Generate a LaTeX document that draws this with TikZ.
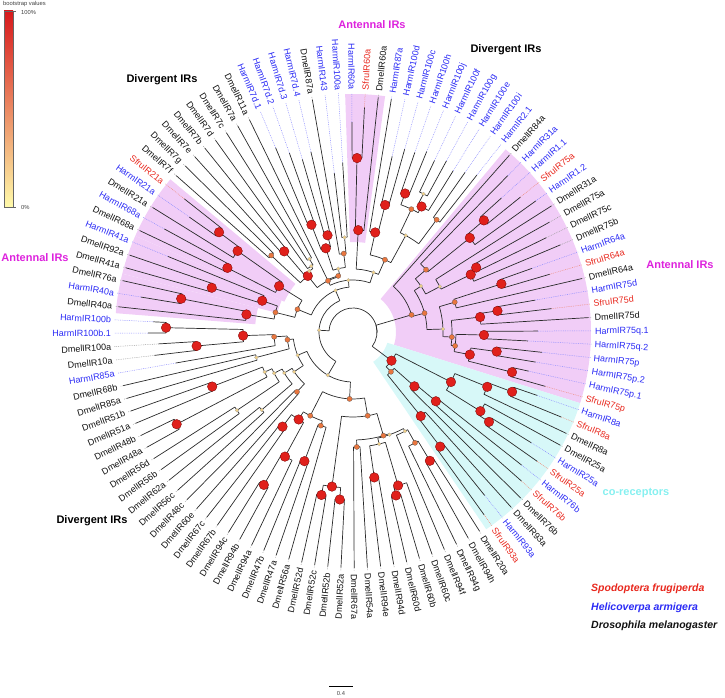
\documentclass[tikz,border=0pt]{standalone}
\usepackage{fontspec}
\setmainfont{Liberation Sans}
\definecolor{cD}{HTML}{111111}
\definecolor{cH}{HTML}{2B2BF5}
\definecolor{cS}{HTML}{E8281E}
\definecolor{lcD}{HTML}{9A9A9A}
\definecolor{lcH}{HTML}{8C8CFF}
\definecolor{lcS}{HTML}{F08A78}
\definecolor{pinkfill}{HTML}{F1CDF7}
\definecolor{cyanfill}{HTML}{D7F8F8}
\definecolor{magtext}{HTML}{DD22DD}
\definecolor{cotext}{HTML}{86F0F0}
\definecolor{bsred}{HTML}{E0201B}
\definecolor{bsorange}{HTML}{E8763F}
\definecolor{bspale}{HTML}{F0CF86}
\definecolor{branch}{HTML}{2A2A2A}
\definecolor{gtop}{HTML}{D7191C}
\definecolor{gmid}{HTML}{EB8C55}
\definecolor{gbot}{HTML}{FFFAAA}

\def\leaflist{1/DmelIR20a/cD,2/DmelIR94h/cD,3/DmelIR94g/cD,4/DmelIR94f/cD,5/DmelIR60c/cD,6/DmelIR60b/cD,7/DmelIR60d/cD,8/DmelIR94d/cD,9/DmelIR94e/cD,10/DmelIR54a/cD,11/DmelIR67a/cD,12/DmelIR52a/cD,13/DmelIR52b/cD,14/DmelIR52c/cD,15/DmelIR52d/cD,16/DmelIR56a/cD,17/DmelIR47a/cD,18/DmelIR47b/cD,19/DmelIR94a/cD,20/DmelIR94b/cD,21/DmelIR94c/cD,22/DmelIR67b/cD,23/DmelIR67c/cD,24/DmelIR60e/cD,25/DmelIR48c/cD,26/DmelIR56c/cD,27/DmelIR62a/cD,28/DmelIR56b/cD,29/DmelIR56d/cD,30/DmelIR48a/cD,31/DmelIR48b/cD,32/DmelIR51a/cD,33/DmelIR51b/cD,34/DmelIR85a/cD,35/DmelIR68b/cD,36/HarmIR85a/cH,37/DmelIR10a/cD,38/DmelIR100a/cD,39/HarmIR100b.1/cH,40/HarmIR100b/cH,41/DmelIR40a/cD,42/HarmIR40a/cH,43/DmelIR76a/cD,44/DmelIR41a/cD,45/DmelIR92a/cD,46/HarmIR41a/cH,47/DmelIR68a/cD,48/HarmIR68a/cH,49/DmelIR21a/cD,50/HarmIR21a/cH,51/SfruIR21a/cS,52/DmelIR7f/cD,53/DmelIR7g/cD,54/DmelIR7e/cD,55/DmelIR7b/cD,56/DmelIR7d/cD,57/DmelIR7c/cD,58/DmelIR7a/cD,59/DmelIR11a/cD,60/HarmIR7d.1/cH,61/HarmIR7d.2/cH,62/HarmIR7d.3/cH,63/HarmIR7d.4/cH,64/DmelIR87a/cD,65/HarmIR143/cH,66/HarmIR100a/cH,67/HarmIR60a/cH,68/SfruIR60a/cS,69/DmelIR60a/cD,70/HarmIR87a/cH,71/HarmIR100d/cH,72/HarmIR100c/cH,73/HarmIR100h/cH,74/HarmIR100j/cH,75/HarmIR100f/cH,76/HarmIR100g/cH,77/HarmIR100e/cH,78/HarmIR100i/cH,79/HarmIR2.1/cH,80/DmelIR84a/cD,81/HarmIR31a/cH,82/HarmIR1.1/cH,83/SfruIR75a/cS,84/HarmIR1.2/cH,85/DmelIR31a/cD,86/DmelIR75a/cD,87/DmelIR75c/cD,88/DmelIR75b/cD,89/HarmIR64a/cH,90/SfruIR64a/cS,91/DmelIR64a/cD,92/HarmIR75d/cH,93/SfruIR75d/cS,94/DmelIR75d/cD,95/HarmIR75q.1/cH,96/HarmIR75q.2/cH,97/HarmIR75p/cH,98/HarmIR75p.2/cH,99/HarmIR75p.1/cH,100/SfruIR75p/cS,101/HarmIR8a/cH,102/SfruIR8a/cS,103/DmelIR8a/cD,104/DmelIR25a/cD,105/HarmIR25a/cH,106/SfruIR25a/cS,107/HarmIR76b/cH,108/SfruIR76b/cS,109/DmelIR76b/cD,110/DmelIR93a/cD,111/HarmIR93a/cH,112/SfruIR93a/cS}

% a/k/b/r/parent r/left tip/right tip/support
\def\treelist{1/79/112/24/0/0/0/0,
80/100/112/24/24/0/0/0,
80/80/100/61/24/236/0/2,
81/88/100/74/61/0/0/2,
81/84/88/82/74/0/0/1,
81/81/84/96/82/220/0/2,
82/83/84/150/96/0/225/3,
82/82/83/172/150/200/215/3,
85/85/88/98/82/235/0/1,
86/87/88/131/98/0/225/3,
86/86/87/139/131/225/215/3,
89/91/100/90/74/0/0/1,
89/90/91/106/90/0/235/2,
89/89/90/156/106/190/205/3,
92/94/100/99/90/0/0/2,
92/93/94/128/99/0/236/3,
92/92/93/146/128/185/200/3,
95/96/100/103/99/0/0/2,
95/95/96/131/103/185/175/3,
97/98/100/119/103/0/0/3,
97/97/98/145/119/190/185/3,
99/99/100/164/119/180/200/3,
101/106/112/48/24/0/0/3,
101/103/106/110/48/0/0/3,
101/102/103/145/110/0/236/3,
101/101/102/170/145/195/225/3,
104/104/106/150/110/236/0/3,
105/105/106/163/150/210/225/3,
107/109/112/55/48/0/0/2,
107/108/109/82/55/0/236/3,
107/107/108/108/82/215/225/3,
110/110/112/108/55/236/0/3,
111/111/112/144/108/210/225/3,
1/40/79/34/24/0/0/1,
1/23/40/50/34/0/0/1,
1/15/23/67/50/0/0/2,
1/11/15/85/67/0/0/2,
1/9/11/108/85/0/0/2,
1/4/9/109/108/0/0/1,
1/3/4/112/109/0/236/1,
1/2/3/127/112/0/236/2,
1/1/2/150/127/236/236/3,
5/7/9/115/109/0/0/1,
5/5/7/160/115/236/0/3,
6/6/7/169/160/236/236/3,
8/8/9/147/115/236/236/3,
10/10/11/115/108/236/236/2,
12/13/15/156/85/0/0/3,
12/12/13/168/156/236/236/3,
14/14/15/166/156/236/236/3,
16/18/23/94/67/0/0/2,
16/16/18/99/94/236/0/2,
17/17/18/138/99/236/236/3,
19/21/23/103/94/0/0/3,
19/19/21/142/103/236/0/3,
20/20/21/177/142/236/236/3,
22/22/23/118/103/236/236/3,
24/33/40/60/50/0/0/1,
24/25/33/71/60/0/0/1,
24/24/25/82/71/236/236/2,
26/27/33/80/71/0/0/1,
26/26/27/120/80/236/236/1,
28/29/33/89/80/0/0/1,
28/28/29/140/89/236/236/1,
30/31/33/97/89/0/0/1,
30/30/31/199/97/236/236/3,
32/32/33/151/97/236/236/3,
34/35/40/66/60/0/0/2,
34/34/35/100/66/236/236/1,
36/36/40/79/66/180/0/2,
37/38/40/110/79/0/0/3,
37/37/38/157/110/200/195/3,
39/39/40/187/110/205/200/3,
41/51/79/45/34/0/0/1,
41/46/51/60/45/0/0/2,
41/43/46/80/60/0/0/2,
41/41/43/108/80/236/0/3,
42/42/43/175/108/215/236/3,
44/45/46/96/80/0/200/3,
44/44/45/148/96/236/236/3,
47/48/51/87/60/0/0/3,
47/47/48/141/87/236/215/3,
49/49/51/141/87/236/0/3,
50/50/51/167/141/200/215/3,
52/66/79/52/45/0/0/1,
52/58/66/57/52/0/0/2,
52/53/58/72/57/0/0/3,
52/52/53/112/72/236/236/2,
54/55/58/75/72/0/0/1,
54/54/55/106/75/236/236/3,
56/56/58/78/75/236/0/1,
57/57/58/85/78/236/236/1,
59/59/66/58/57/236/0/2,
60/63/66/65/58/0/0/1,
60/61/63/88/65/0/0/3,
60/60/61/115/88/200/190/3,
62/62/63/100/88/180/185/3,
64/64/66/79/65/236/0/2,
65/65/66/95/79/160/170/1,
67/69/79/63/52/0/0/1,
67/68/69/102/63/0/236/3,
67/67/68/174/102/210/225/3,
70/72/79/79/63/0/0/2,
70/70/72/102/79/236/0/3,
71/71/72/131/102/180/190/3,
73/77/79/110/79/0/0/1,
73/74/77/136/110/0/0/2,
73/73/74/148/136/190/195/3,
75/76/77/143/136/0/190/3,
75/75/76/155/143/190/195/1,
78/78/79/140/110/195/200/2}

\newcommand\ringsector[4]{%
  \pgfmathsetmacro\sA{-57.57-(#1-1)*3.2143}%
  \pgfmathsetmacro\sB{-57.57-(#2-1)*3.2143}%
  \fill[#4] (\sA:#3pt) arc[start angle=\sA,end angle=\sB,radius=#3pt]
     -- (\sB:238pt) arc[start angle=\sB,end angle=\sA,radius=238pt] -- cycle;}

\tikzset{
  br/.style={draw=branch,line width=0.7pt},
  dl/.style={line width=0.5pt,dash pattern=on 0.8pt off 1pt},
  lab/.style={font=\fontsize{9}{10}\selectfont,inner sep=1pt,text height=6.5pt,text depth=0pt},
  clade/.style={font=\fontsize{11}{13}\selectfont\bfseries,inner sep=0pt},
  leg/.style={font=\fontsize{10.5}{12}\selectfont\bfseries\itshape,anchor=west,inner sep=0pt},
  tiny/.style={font=\fontsize{5.8}{6.5}\selectfont,inner sep=0pt,text=black!75}
}

\begin{document}
\begin{tikzpicture}[x=1pt,y=1pt]
\useasboundingbox (0,0) rectangle (725,697);

\begin{scope}[shift={(353,365)}]
  % shaded clades
  \ringsector{66.5}{69.5}{90}{pinkfill}
  \ringsector{79.5}{100.5}{43}{pinkfill}
  \ringsector{100.5}{112.5}{36}{cyanfill}
  \ringsector{40.5}{43.5}{98}{pinkfill}
  \ringsector{43.5}{46.5}{78}{pinkfill}
  \ringsector{46.5}{51.5}{75}{pinkfill}

  % leaf labels
  \foreach \j/\nm/\col in \leaflist {
    \pgfmathsetmacro\th{-57.57-(\j-1)*3.2143}
    \pgfmathtruncatemacro\flip{cos(\th)<0}
    \ifnum\flip=1\relax
      \pgfmathsetmacro\rot{\th+180}
      \node[lab,text=\col,anchor=east,rotate=\rot] (leaf\j) at (\th:241pt) {\nm};
    \else
      \node[lab,text=\col,anchor=west,rotate=\th] (leaf\j) at (\th:241pt) {\nm};
    \fi
    \expandafter\xdef\csname lc\j\endcsname{l\col}
  }

  % branches
  \foreach \xa/\xk/\xb/\xr/\xp/\xl/\xq/\xs in \treelist {
    \pgfmathsetmacro\thN{-57.57-((\xa+\xb)/2-1)*3.2143}
    \pgfmathsetmacro\thL{-57.57-((\xa+\xk)/2-1)*3.2143}
    \pgfmathsetmacro\thR{-57.57-((\xk+1+\xb)/2-1)*3.2143}
    \draw[br] (\thL:\xr pt) arc[start angle=\thL,end angle=\thR,radius=\xr pt];
    \ifnum\xp>0\relax
      \draw[br] (\thN:\xp pt) -- (\thN:\xr pt);
    \fi
    \ifnum\xa=\xk\relax
      \edef\cl{\csname lc\xa\endcsname}
      \draw[br] (\thL:\xr pt) -- (\thL:\xl pt);
      \draw[dl,draw=\cl] (\thL:\xl pt) -- (\thL:239pt);
    \fi
    \pgfmathtruncatemacro\kk{\xk+1}
    \ifnum\kk=\xb\relax
      \edef\cl{\csname lc\xb\endcsname}
      \draw[br] (\thR:\xr pt) -- (\thR:\xq pt);
      \draw[dl,draw=\cl] (\thR:\xq pt) -- (\thR:239pt);
    \fi
  }

  % bootstrap dots
  \foreach \xa/\xk/\xb/\xr/\xp/\xl/\xq/\xs in \treelist {
    \pgfmathsetmacro\thN{-57.57-((\xa+\xb)/2-1)*3.2143}
    \ifcase\xs\relax
    \or \filldraw[fill=bspale,draw=gray!70,line width=0.2pt] (\thN:\xr pt) circle (1.9pt);
    \or \filldraw[fill=bsorange,draw=gray!60!black,line width=0.2pt] (\thN:\xr pt) circle (2.6pt);
    \or \filldraw[fill=bsred,draw=red!45!black,line width=0.3pt] (\thN:\xr pt) circle (4.8pt);
    \fi
  }
\end{scope}

% clade titles
\node[clade,text=magtext] (antTop) at (372,672) {Antennal IRs};
\node[clade,text=magtext] (antRight) at (680,432) {Antennal IRs};
\node[clade,text=magtext] (antLeft) at (35,439) {Antennal IRs};
\node[clade] (divTL) at (162,617) {Divergent IRs};
\node[clade] (divTR) at (506,647) {Divergent IRs};
\node[clade] (divBL) at (92,176) {Divergent IRs};
\node[clade,text=cotext] (core) at (636,204) {co-receptors};

% species legend
\node[leg,text=cS] (spS) at (591,108) {Spodoptera frugiperda};
\node[leg,text=cH] (spH) at (591,89.5) {Helicoverpa armigera};
\node[leg,text=cD] (spD) at (591,71) {Drosophila melanogaster};

% scale bar
\coordinate (sbA) at (329,11);
\coordinate (sbB) at (353,11);
\draw[line width=0.5pt] (sbA) -- (sbB);
\node[tiny] (sbT) at (341,4) {0.4};

% bootstrap colour bar
\shade[top color=gtop,middle color=gmid,bottom color=gbot] (4,490) rectangle (13,686);
\draw[line width=0.3pt,black!60] (4,490) rectangle (13,686);
\draw[line width=0.3pt,black!60] (13,686) -- (16,686);
\draw[line width=0.3pt,black!60] (13,490) -- (16,490);
\node[tiny,anchor=west] (bsT) at (3,692.5) {bootstrap values};
\node[tiny,anchor=west] (bs100) at (21,684) {100\%};
\node[tiny,anchor=west] (bs0) at (21,489) {0\%};
\end{tikzpicture}
\end{document}
